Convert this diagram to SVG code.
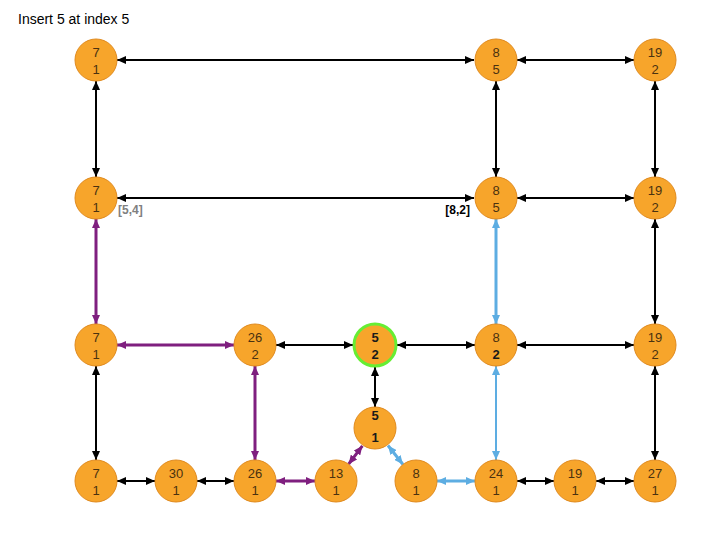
<svg xmlns="http://www.w3.org/2000/svg" width="720" height="540" viewBox="0 0 720 540">
<style>
.n{fill:#F7A52B;stroke:#E08A1E;stroke-width:1}
.g{stroke:#66EE33;stroke-width:3}
.t{font-family:"Liberation Sans",Arial,sans-serif;font-size:13px;fill:#4A3210;text-anchor:middle}
.b{font-weight:bold;fill:#1a1a1a}
.k{stroke:#000;stroke-width:2;fill:none;marker-start:url(#ak);marker-end:url(#ak)}
.p{stroke:#7F1F7F;stroke-width:3;fill:none;marker-start:url(#ap);marker-end:url(#ap)}
.c{stroke:#5DADE2;stroke-width:3;fill:none;marker-start:url(#ac);marker-end:url(#ac)}
.c2{stroke:#5DADE2;stroke-width:2;fill:none;marker-start:url(#ac);marker-end:url(#ac)}
</style>
<defs>
<marker id="ak" markerUnits="userSpaceOnUse" markerWidth="9" markerHeight="8" refX="9" refY="4" orient="auto-start-reverse"><path d="M0,0 L9,4 L0,8 z" fill="#000"/></marker>
<marker id="ap" markerUnits="userSpaceOnUse" markerWidth="9" markerHeight="8" refX="9" refY="4" orient="auto-start-reverse"><path d="M0,0 L9,4 L0,8 z" fill="#7F1F7F"/></marker>
<marker id="ac" markerUnits="userSpaceOnUse" markerWidth="9" markerHeight="8" refX="9" refY="4" orient="auto-start-reverse"><path d="M0,0 L9,4 L0,8 z" fill="#5DADE2"/></marker>
</defs>
<rect width="720" height="540" fill="#fff"/>
<text x="18" y="24" font-family="'Liberation Sans',Arial,sans-serif" font-size="14" fill="#000">Insert 5 at index 5</text>
<g id="connectors">
<line class="k" x1="117" y1="60" x2="474" y2="60"/>
<line class="k" x1="517" y1="60" x2="634" y2="60"/>
<line class="k" x1="96" y1="81" x2="96" y2="177"/>
<line class="k" x1="496" y1="81" x2="496" y2="177"/>
<line class="k" x1="655" y1="81" x2="655" y2="177"/>
<line class="k" x1="117" y1="198" x2="474" y2="198"/>
<line class="k" x1="517" y1="198" x2="634" y2="198"/>
<line class="p" x1="96" y1="219" x2="96" y2="324"/>
<line class="c" x1="496" y1="219" x2="496" y2="324"/>
<line class="k" x1="655" y1="219" x2="655" y2="324"/>
<line class="p" x1="117" y1="345" x2="234" y2="345"/>
<line class="k" x1="276" y1="345" x2="353" y2="345"/>
<line class="k" x1="397" y1="345" x2="475" y2="345"/>
<line class="k" x1="517" y1="345" x2="634" y2="345"/>
<line class="k" x1="96" y1="366" x2="96" y2="460"/>
<line class="p" x1="255" y1="366" x2="255" y2="460"/>
<line class="k" x1="375" y1="367" x2="375" y2="407"/>
<line class="c2" x1="496" y1="366" x2="496" y2="460"/>
<line class="k" x1="655" y1="366" x2="655" y2="460"/>
<line class="k" x1="117" y1="481" x2="155" y2="481"/>
<line class="k" x1="197" y1="481" x2="234" y2="481"/>
<line class="p" x1="276" y1="481" x2="315" y2="481"/>
<line class="p" x1="348.6" y1="464.2" x2="362.4" y2="445.8"/>
<line class="c" x1="388" y1="445.5" x2="403" y2="464.5"/>
<line class="c" x1="437" y1="481" x2="475" y2="481"/>
<line class="k" x1="517" y1="481" x2="554" y2="481"/>
<line class="k" x1="596" y1="481" x2="634" y2="481"/>
</g>
<g id="n1"><circle class="n" cx="96" cy="60" r="21"/><text class="t" x="96" y="57">7</text><text class="t" x="96" y="74">1</text></g>
<g id="n2"><circle class="n" cx="496" cy="60" r="21"/><text class="t" x="496" y="57">8</text><text class="t" x="496" y="74">5</text></g>
<g id="n3"><circle class="n" cx="655" cy="60" r="21"/><text class="t" x="655" y="57">19</text><text class="t" x="655" y="74">2</text></g>
<g id="n4"><circle class="n" cx="96" cy="198" r="21"/><text class="t" x="96" y="195">7</text><text class="t" x="96" y="212">1</text></g>
<g id="n5"><circle class="n" cx="496" cy="198" r="21"/><text class="t" x="496" y="195">8</text><text class="t" x="496" y="212">5</text></g>
<g id="n6"><circle class="n" cx="655" cy="198" r="21"/><text class="t" x="655" y="195">19</text><text class="t" x="655" y="212">2</text></g>
<g id="n7"><circle class="n" cx="96" cy="345" r="21"/><text class="t" x="96" y="342">7</text><text class="t" x="96" y="359">1</text></g>
<g id="n8"><circle class="n" cx="255" cy="345" r="21"/><text class="t" x="255" y="342">26</text><text class="t" x="255" y="359">2</text></g>
<g id="n9"><circle class="n g" cx="375" cy="345" r="21"/><text class="t b" x="375" y="342">5</text><text class="t b" x="375" y="359">2</text></g>
<g id="n10"><circle class="n" cx="496" cy="345" r="21"/><text class="t" x="496" y="342">8</text><text class="t b" x="496" y="359">2</text></g>
<g id="n11"><circle class="n" cx="655" cy="345" r="21"/><text class="t" x="655" y="342">19</text><text class="t" x="655" y="359">2</text></g>
<g id="n12"><circle class="n" cx="375" cy="428" r="21"/><text class="t b" x="375" y="420">5</text><text class="t b" x="375" y="442">1</text></g>
<g id="n13"><circle class="n" cx="96" cy="481" r="21"/><text class="t" x="96" y="478">7</text><text class="t" x="96" y="495">1</text></g>
<g id="n14"><circle class="n" cx="176" cy="481" r="21"/><text class="t" x="176" y="478">30</text><text class="t" x="176" y="495">1</text></g>
<g id="n15"><circle class="n" cx="255" cy="481" r="21"/><text class="t" x="255" y="478">26</text><text class="t" x="255" y="495">1</text></g>
<g id="n16"><circle class="n" cx="336" cy="481" r="21"/><text class="t" x="336" y="478">13</text><text class="t" x="336" y="495">1</text></g>
<g id="n17"><circle class="n" cx="416" cy="481" r="21"/><text class="t" x="416" y="478">8</text><text class="t" x="416" y="495">1</text></g>
<g id="n18"><circle class="n" cx="496" cy="481" r="21"/><text class="t" x="496" y="478">24</text><text class="t" x="496" y="495">1</text></g>
<g id="n19"><circle class="n" cx="575" cy="481" r="21"/><text class="t" x="575" y="478">19</text><text class="t" x="575" y="495">1</text></g>
<g id="n20"><circle class="n" cx="655" cy="481" r="21"/><text class="t" x="655" y="478">27</text><text class="t" x="655" y="495">1</text></g>
<text x="118" y="214" font-family="'Liberation Sans',Arial,sans-serif" font-size="12" font-weight="bold" fill="#808080">[5,4]</text>
<text x="470" y="214" font-family="'Liberation Sans',Arial,sans-serif" font-size="12" font-weight="bold" fill="#000" text-anchor="end">[8,2]</text>
</svg>
